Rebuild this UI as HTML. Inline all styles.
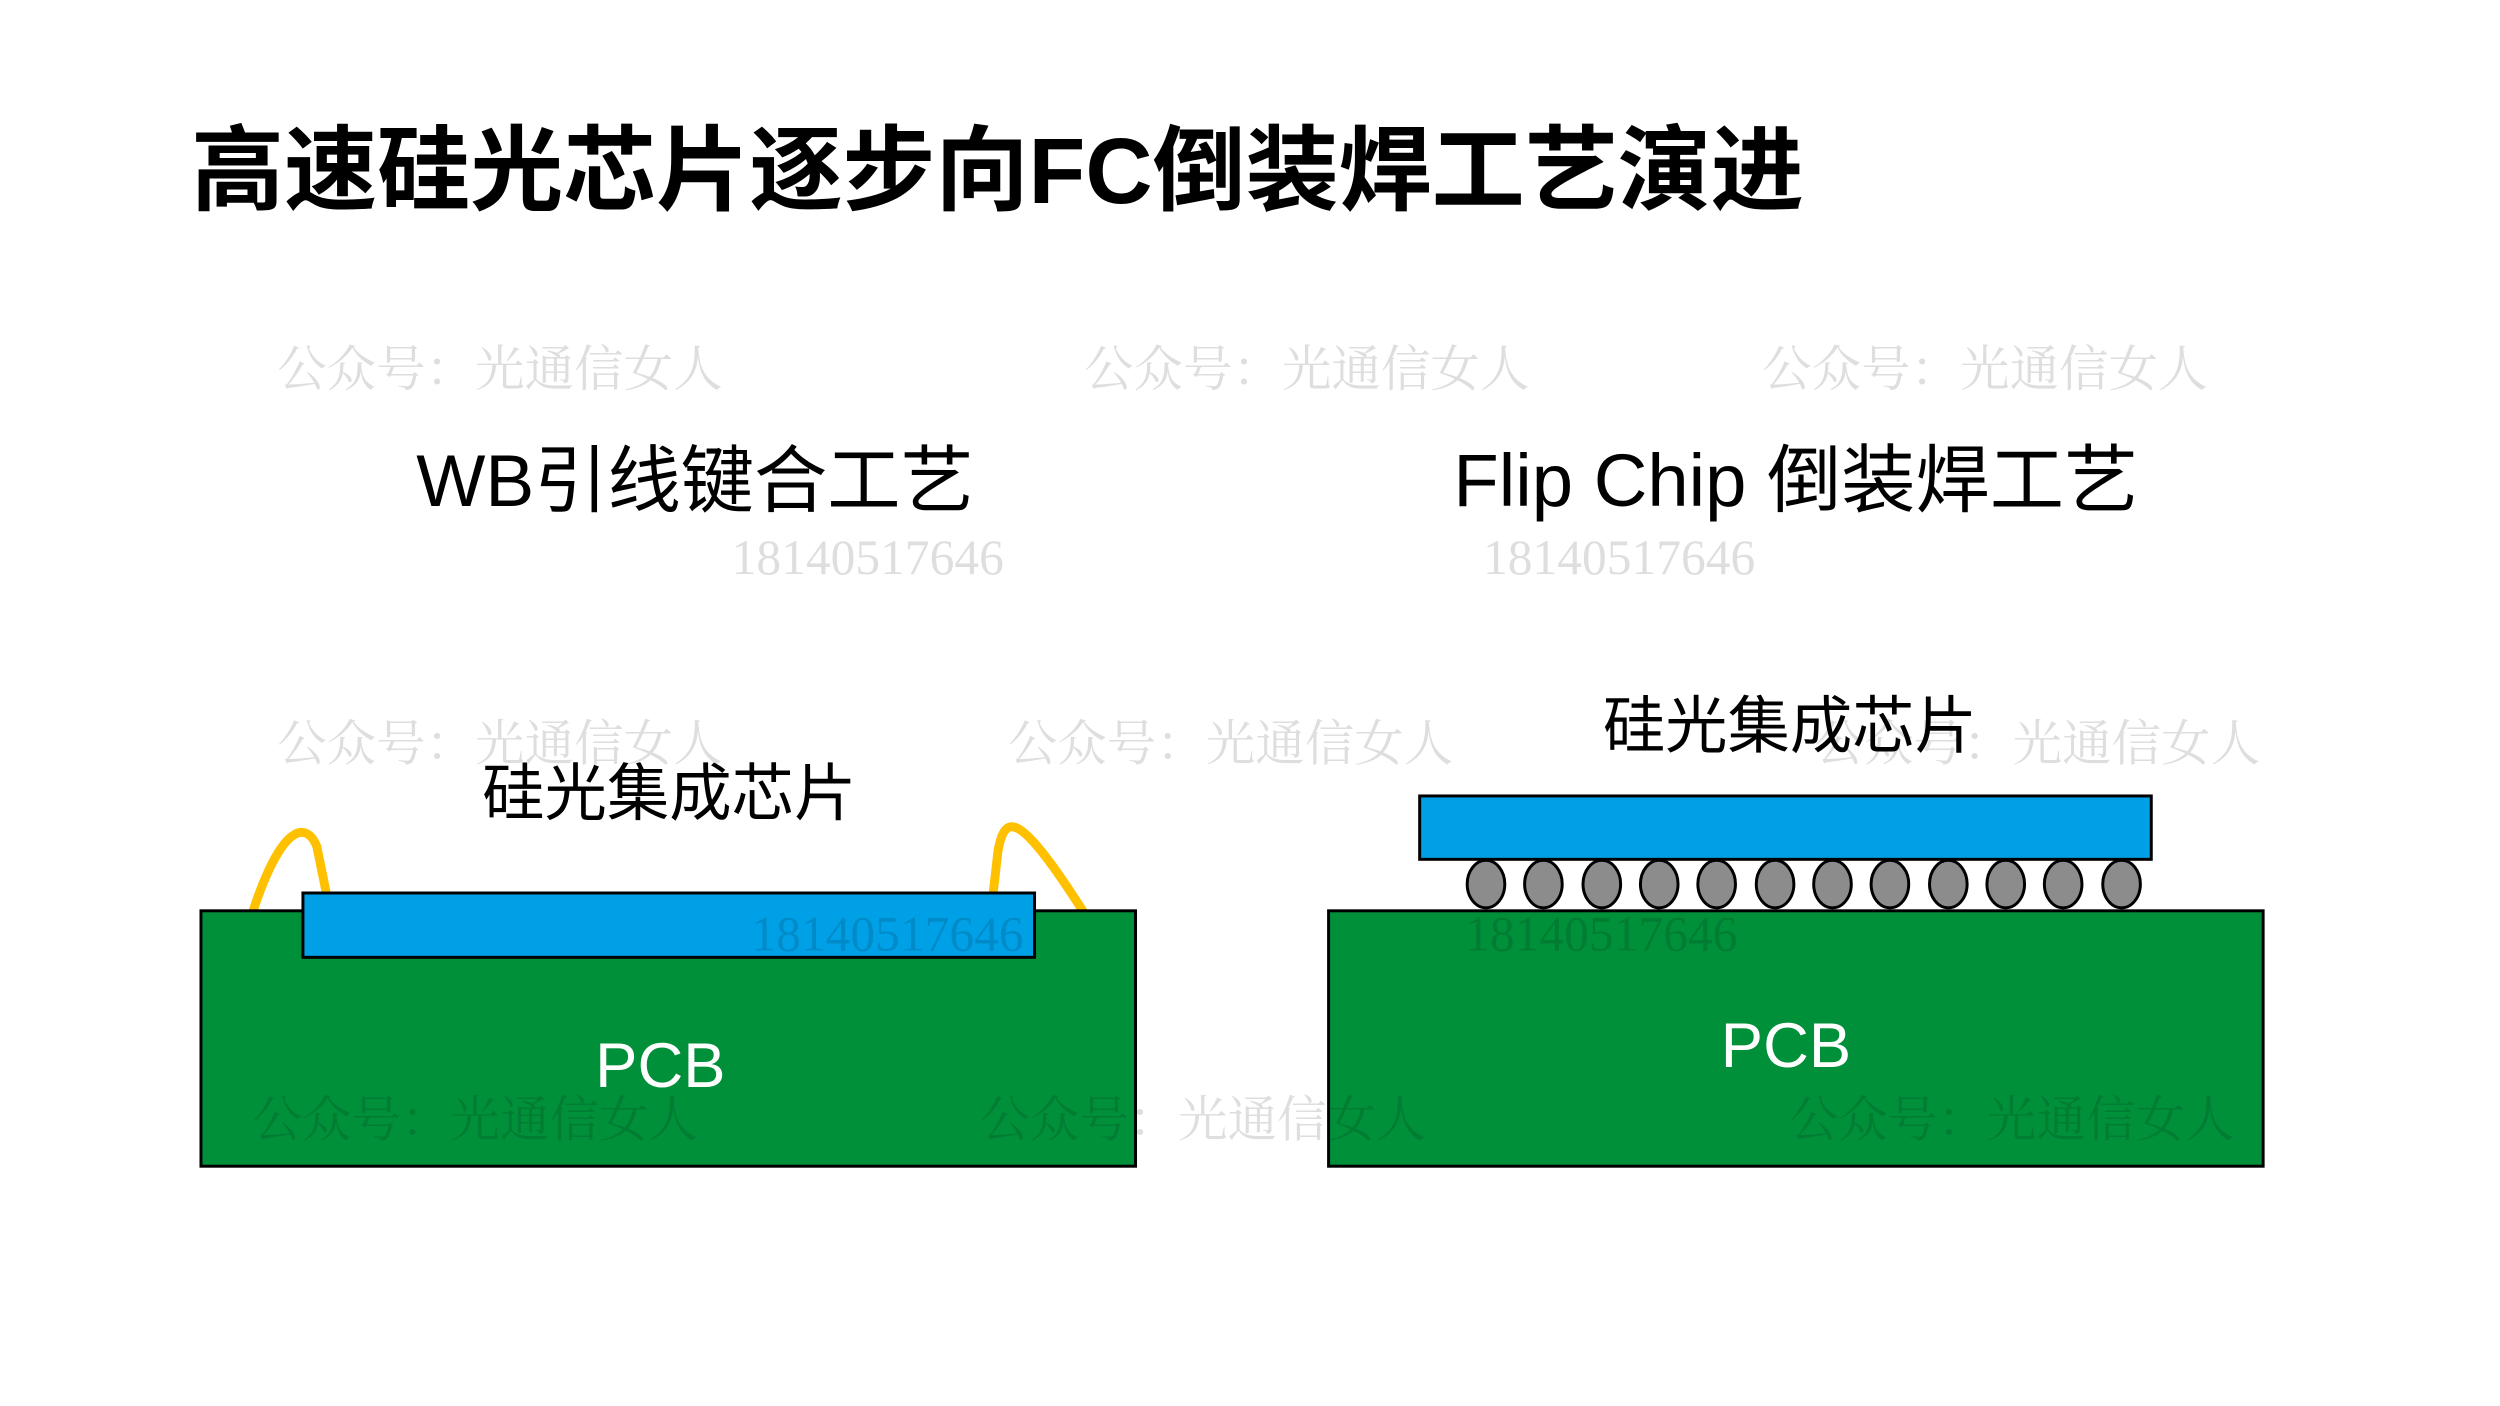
<!DOCTYPE html>
<html><head><meta charset="utf-8"><style>
html,body{margin:0;padding:0;background:#fff;}
svg{display:block;}
.s{font-family:"Liberation Sans","Noto Sans CJK SC",sans-serif;}
.w{font-family:"Liberation Serif","Noto Serif CJK SC",serif;fill:rgba(0,0,0,0.13);font-size:50px;}
</style></head><body>
<svg width="2500" height="1406" viewBox="0 0 2500 1406" xmlns="http://www.w3.org/2000/svg">
<rect width="2500" height="1406" fill="#fff"/>
<g transform="scale(0.99)">
<text class="s" x="193" y="205" font-size="94" font-weight="bold" fill="#000">高速硅光芯片逐步向FC倒装焊工艺演进</text>
<text class="s" x="702" y="511" font-size="74" text-anchor="middle" fill="#000">WB引线键合工艺</text>
<text class="s" x="1814" y="511" font-size="75" text-anchor="middle" fill="#000">Flip Chip 倒装焊工艺</text>
<text class="s" x="676" y="823" font-size="63" text-anchor="middle" fill="#000">硅光集成芯片</text>
<text class="s" x="1808" y="755" font-size="63" text-anchor="middle" fill="#000">硅光集成芯片</text>
<!-- wires -->
<path d="M255,922 C285,830 310,830 320,855 L330,904" fill="none" stroke="#ffc000" stroke-width="9"/>
<path d="M1003,904 L1008,860 C1015,820 1030,820 1095,922" fill="none" stroke="#ffc000" stroke-width="9"/>
<!-- left pcb -->
<rect x="203" y="920" width="944" height="258" fill="#00903a" stroke="#000" stroke-width="3"/>
<rect x="306" y="902" width="739" height="65" fill="#00a0e6" stroke="#000" stroke-width="3"/>
<text class="s" x="667" y="1098" font-size="64" text-anchor="middle" fill="#fff">PCB</text>
<!-- right -->
<rect x="1434" y="804" width="739" height="64" fill="#00a0e6" stroke="#000" stroke-width="3"/>
<g fill="#8c8c8c" stroke="#000" stroke-width="3">
<ellipse cx="1501" cy="893" rx="19" ry="24"/><ellipse cx="1559" cy="893" rx="19" ry="24"/>
<ellipse cx="1618" cy="893" rx="19" ry="24"/><ellipse cx="1676" cy="893" rx="19" ry="24"/>
<ellipse cx="1734" cy="893" rx="19" ry="24"/><ellipse cx="1793" cy="893" rx="19" ry="24"/>
<ellipse cx="1851" cy="893" rx="19" ry="24"/><ellipse cx="1909" cy="893" rx="19" ry="24"/>
<ellipse cx="1968" cy="893" rx="19" ry="24"/><ellipse cx="2026" cy="893" rx="19" ry="24"/>
<ellipse cx="2084" cy="893" rx="19" ry="24"/><ellipse cx="2143" cy="893" rx="19" ry="24"/>
</g>
<rect x="1342" y="920" width="944" height="258" fill="#00903a" stroke="#000" stroke-width="3"/>
<text class="s" x="1804" y="1078" font-size="64" text-anchor="middle" fill="#fff">PCB</text>
<!-- watermarks -->
<text class="w" x="280" y="390">公众号：光通信女人</text>
<text class="w" x="1095" y="390">公众号：光通信女人</text>
<text class="w" x="1780" y="390">公众号：光通信女人</text>
<text class="w" x="280" y="768">公众号：光通信女人</text>
<text class="w" x="1018" y="768">公众号：光通信女人</text>
<text class="w" x="1833" y="768">公众号：光通信女人</text>
<text class="w" x="255" y="1148">公众号：光通信女人</text>
<text class="w" x="990" y="1148">公众号：光通信女人</text>
<text class="w" x="1807" y="1148">公众号：光通信女人</text>
<text class="w" x="739" y="580">18140517646</text>
<text class="w" x="1498" y="580">18140517646</text>
<text class="w" x="759" y="960">18140517646</text>
<text class="w" x="1480" y="960">18140517646</text>
</g>
</svg>
</body></html>
